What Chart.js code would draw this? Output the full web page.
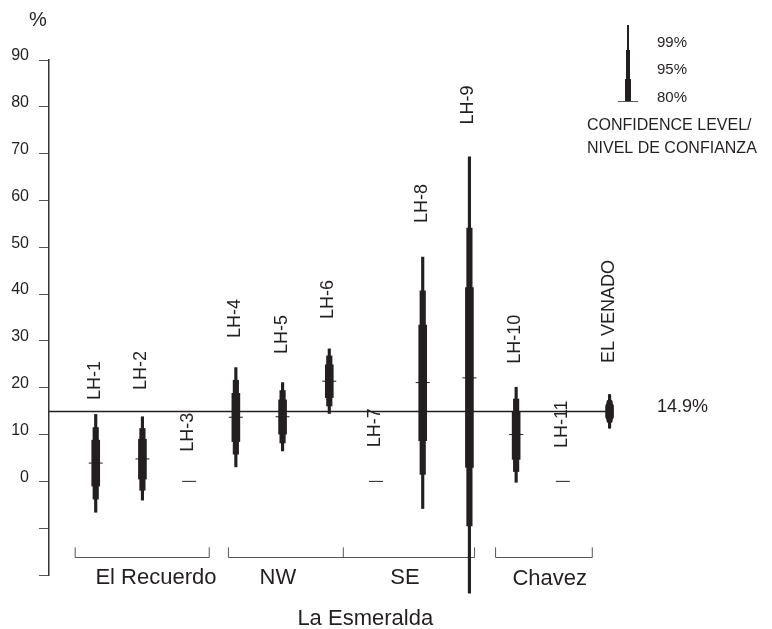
<!DOCTYPE html>
<html>
<head>
<meta charset="utf-8">
<script src="https://cdn.jsdelivr.net/npm/chart.js@4.4.1/dist/chart.umd.min.js"></script>
<style>
  body { margin: 0; background: #fff; }
  #wrap { width: 772px; height: 629px; }
</style>
</head>
<body>
<div id="wrap"><canvas id="js--chart--1"></canvas></div>
<script>
const sites = ["LH-1", "LH-2", "LH-3", "LH-4", "LH-5", "LH-6",
               "LH-7", "LH-8", "LH-9", "LH-10", "LH-11", "EL VENADO"];

// mean and confidence limits, %
const means  = [3.9, 4.8, 0, 13.7, 13.8, 21.4, 0, 21.1, 22.1, 10.0, 0, 14.9];
const low99  = [-6.6, -4.0, null, 3.1, 6.5, 14.5, null, -5.8, -23.9, -0.2, null, 11.3];
const high99 = [14.3, 13.8, null, 24.3, 21.1, 28.3, null, 47.9, 69.3, 20.1, null, 18.6];
const low95  = [-3.8, -1.9, null, 5.8, 8.2, 16.1, null, 1.5, -9.5, 2.1, null, 12.5];
const high95 = [11.5, 11.3, null, 21.6, 19.4, 26.8, null, 40.7, 54.1, 17.6, null, 17.4];
const low80  = [-1.0, 0.5, null, 8.5, 10.1, 17.9, null, 8.7, 3.0, 4.7, null, 13.1];
const high80 = [8.8, 9.0, null, 18.8, 17.4, 24.9, null, 33.4, 41.4, 14.9, null, 16.7];

const regional = 14.9;
const yTicks = [-20, -10, 0, 10, 20, 30, 40, 50, 60, 70, 80, 90];

// where each rotated site name starts (axis units)
const nameBase = [17.4, 19.5, 6.3, 30.6, 27.2, 34.7, 7.3, 55.2, 76.2, 25.1, 7.1, 25.3];

// brackets under the sites: [from, to, inner ticks]
const brackets = [
  [-0.44, 2.43, []],
  [2.84, 8.11, [5.30]],
  [8.56, 10.63, []],
];
const groupNames = [
  ["El Recuerdo", 1.29, -20.7],
  ["NW", 3.9, -20.7],
  ["SE", 6.62, -20.7],
  ["Chavez", 9.72, -20.9],
  ["La Esmeralda", 5.77, -29.3],
];

const ink = "#231f20";
const font = "'Liberation Sans', Arial, sans-serif";

function band(lo, hi) {
  const out = [];
  sites.forEach(function (s, i) {
    if (lo[i] !== null) out.push({ x: i, y: [lo[i], hi[i]] });
  });
  return out;
}

function barSet(label, lo, hi, thick) {
  return {
    type: "bar",
    label: label,
    data: band(lo, hi),
    backgroundColor: ink,
    borderWidth: 0,
    borderSkipped: false,
    borderRadius: function (c) { return c.raw && c.raw.x === 11 ? 4 : 0; },
    barThickness: thick,
    grouped: false,
    clip: false,
  };
}

const decorations = {
  id: "decorations",
  beforeDatasetsDraw(chart) {
    const ctx = chart.ctx;
    const xs = chart.scales.x, ys = chart.scales.y;
    ctx.save();
    ctx.strokeStyle = "#555";
    ctx.lineWidth = 1;
    const by = Math.round(ys.getPixelForValue(-16.2)) + 0.5;
    const ty = ys.getPixelForValue(-14.1);
    brackets.forEach(function (b) {
      const x0 = xs.getPixelForValue(b[0]), x1 = xs.getPixelForValue(b[1]);
      ctx.beginPath();
      ctx.moveTo(x0, ty); ctx.lineTo(x0, by); ctx.lineTo(x1, by); ctx.lineTo(x1, ty);
      b[2].forEach(function (m) {
        const xm = xs.getPixelForValue(m);
        ctx.moveTo(xm, by); ctx.lineTo(xm, ty);
      });
      ctx.stroke();
    });
    ctx.restore();
  },
  afterDraw(chart) {
    const ctx = chart.ctx;
    const xs = chart.scales.x, ys = chart.scales.y;
    ctx.save();
    ctx.fillStyle = ink;

    // rotated site names
    ctx.font = "18px " + font;
    sites.forEach(function (s, i) {
      ctx.save();
      ctx.translate(xs.getPixelForValue(i) - 1, ys.getPixelForValue(nameBase[i]));
      ctx.rotate(-Math.PI / 2);
      ctx.textAlign = "left";
      ctx.textBaseline = "middle";
      ctx.fillText(s, 0, 0);
      ctx.restore();
    });

    // group names
    ctx.font = "22px " + font;
    ctx.textAlign = "center";
    ctx.textBaseline = "middle";
    groupNames.forEach(function (g) {
      ctx.fillText(g[0], xs.getPixelForValue(g[1]), ys.getPixelForValue(g[2]));
    });

    // axis unit and regional value
    ctx.textAlign = "left";
    ctx.font = "20px " + font;
    ctx.fillText("%", 29, 20);
    ctx.font = "18px " + font;
    ctx.fillText(regional.toFixed(1) + "%", 657, ys.getPixelForValue(regional) - 5);

    // confidence key
    ctx.fillRect(627, 25, 2, 25);
    ctx.fillRect(626, 50, 4, 29);
    ctx.fillRect(625, 79, 6, 22);
    ctx.fillStyle = "#555";
    ctx.fillRect(618, 101, 20, 1);
    ctx.fillStyle = ink;
    ctx.font = "15px " + font;
    ctx.fillText("99%", 657, 43);
    ctx.fillText("95%", 657, 70);
    ctx.fillText("80%", 657, 98);
    ctx.font = "16px " + font;
    ctx.fillText("CONFIDENCE LEVEL/", 587, 126);
    ctx.fillText("NIVEL DE CONFIANZA", 587, 149);
    ctx.restore();
  }
};

new Chart(document.getElementById("js--chart--1"), {
  data: {
    datasets: [
      {
        type: "scatter",
        label: "mean",
        data: means.map(function (m, i) { return { x: i, y: m }; }),
        pointStyle: "line",
        radius: function (c) { return c.dataIndex === 11 ? 0 : 7; },
        borderColor: ink,
        borderWidth: 1,
        clip: false,
      },
      {
        type: "line",
        label: "regional",
        data: [{ x: -1, y: regional }, { x: 11, y: regional }],
        borderColor: ink,
        borderWidth: 1.5,
        pointRadius: 0,
      },
      barSet("80%", low80, high80, 8),
      barSet("95%", low95, high95, 5.5),
      barSet("99%", low99, high99, 2.5),
    ]
  },
  options: {
    responsive: true,
    maintainAspectRatio: false,
    animation: false,
    layout: { padding: { left: 0, top: 60, right: 69, bottom: 54 } },
    plugins: { legend: { display: false }, tooltip: { enabled: false } },
    scales: {
      x: { type: "linear", min: -1, max: 13, offset: false, display: false },
      y: {
        type: "linear",
        min: -20,
        max: 90,
        afterBuildTicks: function (s) { s.ticks = yTicks.map(function (v) { return { value: v }; }); },
        afterFit: function (s) { s.width = 49; },
        ticks: {
          padding: 10,
          labelOffset: -4,
          color: ink,
          font: { family: font, size: 16 },
          callback: function (v) { return v < 0 ? "" : v; },
        },
        grid: { drawOnChartArea: false, tickLength: 10, color: "#555", lineWidth: 1 },
        border: { color: "#333", width: 1.5 },
      }
    }
  },
  plugins: [decorations]
});
</script>
</body>
</html>
